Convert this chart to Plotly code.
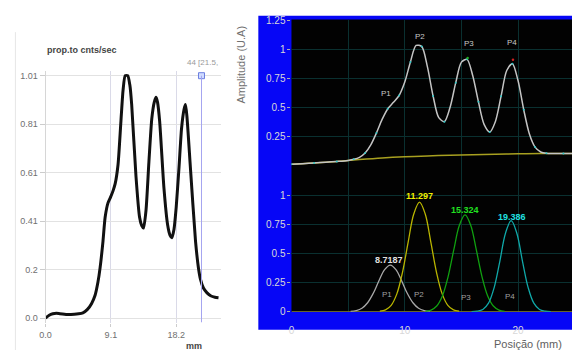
import plotly.graph_objects as go

# ---------------- data ----------------
# Left panel (profile, prop. to cnts/sec vs mm)
LEFT_X = [0.0, 0.5, 1.0, 1.5, 2.0, 3.0, 4.0, 4.6, 5.2, 5.8, 6.4, 6.9, 7.3, 7.6, 8.0, 8.3, 8.7,
          9.0, 9.4, 9.7, 10.1, 10.5, 10.8, 11.1, 11.45, 11.75, 12.0, 12.6, 13.1, 13.4, 13.65,
          14.0, 14.4, 14.8, 15.15, 15.4, 15.6, 15.9, 16.5, 17.0, 17.35, 17.6, 17.9, 18.2, 18.6,
          18.95, 19.3, 19.5, 19.7, 20.2, 20.9, 21.3, 21.6, 22.0, 22.5, 23.0, 23.6, 24.1]
LEFT_Y = [0.0, 0.012, 0.018, 0.02, 0.018, 0.015, 0.016, 0.018, 0.022, 0.035, 0.06, 0.095, 0.15,
          0.21, 0.32, 0.42, 0.48, 0.5, 0.53, 0.56, 0.64, 0.82, 0.95, 1.01, 1.01, 0.97, 0.89, 0.59,
          0.42, 0.385, 0.375, 0.45, 0.65, 0.83, 0.9, 0.92, 0.9, 0.82, 0.54, 0.39, 0.345, 0.335,
          0.37, 0.46, 0.63, 0.79, 0.87, 0.89, 0.84, 0.62, 0.32, 0.21, 0.16, 0.125, 0.105, 0.093,
          0.087, 0.085]
LEFT_XTICKS = [0.0, 9.1, 18.2]
LEFT_XTEXT = ["0.0", "9.1", "18.2"]
LEFT_YTICKS = [0.0, 0.202, 0.404, 0.606, 0.808, 1.01]
LEFT_YTEXT = ["0.0", "0.2", "0.41", "0.61", "0.81", "1.01"]
CURSOR_X = 21.73
CURSOR_LABEL = "44 [21.5,"

# Right panel, upper: measured profile and background
UP_X = [0, 1, 2, 3, 4, 5, 5.5, 6, 6.5, 7, 7.5, 8, 8.5, 9, 9.5, 10, 10.5, 11, 11.5, 12, 12.5, 13,
        13.5, 14, 14.5, 15, 15.5, 16, 16.5, 17, 17.5, 18, 18.5, 19, 19.5, 20, 20.5, 21, 21.5, 22,
        22.5, 23, 24, 24.8]
UP_Y = [0.014, 0.019, 0.025, 0.031, 0.038, 0.047, 0.056, 0.073, 0.110, 0.180, 0.282, 0.398, 0.490,
        0.545, 0.603, 0.718, 0.891, 1.032, 1.022, 0.848, 0.599, 0.413, 0.379, 0.502, 0.713, 0.889,
        0.913, 0.772, 0.550, 0.356, 0.290, 0.381, 0.597, 0.817, 0.876, 0.729, 0.481, 0.273, 0.161,
        0.119, 0.108, 0.106, 0.106, 0.107]
BASE_X = [0, 2, 4, 6, 8, 10, 12, 14, 16, 18, 20, 22, 24.8]
BASE_Y = [0.014, 0.025, 0.038, 0.054, 0.068, 0.078, 0.085, 0.091, 0.096, 0.1, 0.103, 0.105, 0.107]
PEAK_NAMES = ["P1", "P2", "P3", "P4"]
UP_LABEL_X = [8.38, 11.3, 15.66, 19.45]
UP_LABEL_Y = [0.62, 1.11, 1.045, 1.055]
TOP_DOT_X = [15.55, 19.55]
TOP_DOT_Y = [0.925, 0.91]

# Right panel, lower: fitted components
P1_X = [5.22, 5.72, 6.22, 6.72, 7.22, 7.72, 8.22, 8.72, 9.22, 9.72, 10.22, 10.72, 11.22, 11.72, 12.22]
P1_Y = [0.003, 0.010, 0.030, 0.077, 0.158, 0.265, 0.361, 0.40, 0.361, 0.265, 0.158, 0.077, 0.030, 0.010, 0.003]
P2_X = [7.8, 8.3, 8.8, 9.3, 9.8, 10.3, 10.8, 11.3, 11.8, 12.3, 12.8, 13.3, 13.8, 14.3, 14.8]
P2_Y = [0.004, 0.016, 0.055, 0.153, 0.338, 0.597, 0.839, 0.94, 0.839, 0.597, 0.338, 0.153, 0.055, 0.016, 0.004]
P3_X = [11.82, 12.32, 12.82, 13.32, 13.82, 14.32, 14.82, 15.32, 15.82, 16.32, 16.82, 17.32, 17.82, 18.32, 18.82]
P3_Y = [0.003, 0.014, 0.049, 0.135, 0.299, 0.527, 0.741, 0.83, 0.741, 0.527, 0.299, 0.135, 0.049, 0.014, 0.003]
P4_X = [15.89, 16.39, 16.89, 17.39, 17.89, 18.39, 18.89, 19.39, 19.89, 20.39, 20.89, 21.39, 21.89, 22.39, 22.89]
P4_Y = [0.001, 0.004, 0.019, 0.073, 0.207, 0.432, 0.673, 0.78, 0.673, 0.432, 0.207, 0.073, 0.019, 0.004, 0.001]
CENTER_LABELS = ["8.7187", "11.297", "15.324", "19.386"]
CENTER_LABEL_X = [8.6, 11.27, 15.34, 19.42]
CENTER_LABEL_Y = [0.444, 0.99, 0.87, 0.81]
LOW_LABEL_X = [8.4, 11.27, 15.37, 19.3]
LOW_LABEL_Y = [0.15, 0.15, 0.12, 0.13]
RIGHT_XTICKS = [0, 5, 10, 15, 20]
RIGHT_XTEXT = ["0", "", "10", "", "20"]
UP_YTICKS = [0.25, 0.5, 0.75, 1, 1.25]
UP_YTEXT = ["0.25", "0.5", "0.75", "1", "1.25"]
LOW_YTICKS = [0, 0.25, 0.5, 0.75, 1]
LOW_YTEXT = ["0", "0.25", "0.5", "0.75", "1"]

# ---------------- styling ----------------
W, H = 572, 356
FONT = "Liberation Sans, Arial, sans-serif"
COMP_COLORS = ["#a8a8a8", "#b8b400", "#10a010", "#10a8a8"]
LABEL_COLORS = ["#e0e0e0", "#f0f000", "#20e020", "#20e0e0"]
GRID_R = "#0a3030"
BLUE = "#0606f6"


def px(x):
    return x / W


def py(y):
    return 1 - y / H


fig = go.Figure()

# left panel curve
fig.add_trace(go.Scatter(x=LEFT_X, y=LEFT_Y, mode="lines", xaxis="x", yaxis="y",
                         line=dict(color="#111111", width=3, shape="spline", smoothing=0.6),
                         hoverinfo="skip"))
fig.add_trace(go.Scatter(x=[CURSOR_X], y=[LEFT_YTICKS[-1]], mode="markers", xaxis="x", yaxis="y",
                         marker=dict(symbol="square", size=6, color="#d0dcff",
                                     line=dict(color="#6c7fe0", width=1)),
                         hoverinfo="skip", cliponaxis=False))

# right upper
fig.add_trace(go.Scatter(x=BASE_X, y=BASE_Y, mode="lines", xaxis="x2", yaxis="y2",
                         line=dict(color="#a8a020", width=1.5, shape="spline"), hoverinfo="skip"))
fig.add_trace(go.Scatter(x=UP_X, y=UP_Y, mode="lines", xaxis="x2", yaxis="y2",
                         line=dict(color="#c4c4c4", width=1.5, shape="spline", smoothing=0.8),
                         hoverinfo="skip"))
fig.add_trace(go.Scatter(x=UP_X[::2], y=UP_Y[::2], mode="markers", xaxis="x2", yaxis="y2",
                         marker=dict(color="#30c8c8", size=2), hoverinfo="skip"))
fig.add_trace(go.Scatter(x=TOP_DOT_X, y=TOP_DOT_Y, mode="markers", xaxis="x2", yaxis="y2",
                         marker=dict(color=["#20b020", "#d02020"], size=2.5), hoverinfo="skip"))

# right lower
fig.add_trace(go.Scatter(x=[0, BASE_X[-1]], y=[0, 0], mode="lines", xaxis="x3", yaxis="y3",
                         line=dict(color="#8a8420", width=1.5), hoverinfo="skip"))
for xs, ys, c in zip([P1_X, P2_X, P3_X, P4_X], [P1_Y, P2_Y, P3_Y, P4_Y], COMP_COLORS):
    fig.add_trace(go.Scatter(x=xs, y=ys, mode="lines", xaxis="x3", yaxis="y3",
                             line=dict(color=c, width=1.3, shape="spline"), hoverinfo="skip"))

# ---------------- layout ----------------
tickfont_r = dict(family=FONT, size=10, color="#d8d8d8")
tickfont_l = dict(family=FONT, size=9, color="#707070")

x_r_dom = [px(288.5), 1.0]
x_r_rng = [0, (W - 288.5) / 11.45]

fig.update_layout(
    width=W, height=H, margin=dict(l=0, r=0, t=0, b=0),
    paper_bgcolor="white", plot_bgcolor="rgba(0,0,0,0)", showlegend=False,
    xaxis=dict(domain=[px(40), px(217)], range=[0, 24.41], anchor="y",
               tickvals=LEFT_XTICKS, ticktext=LEFT_XTEXT, showgrid=True, gridcolor="#dadae8",
               zeroline=False, showline=False, ticks="outside", ticklen=3, tickcolor="#cccccc",
               tickfont=tickfont_l),
    yaxis=dict(domain=[py(328), py(68)], range=[-0.02, 1.03], anchor="x",
               tickvals=LEFT_YTICKS, ticktext=LEFT_YTEXT, showgrid=True, gridcolor="#e2e2e2",
               zeroline=False, showline=True, linecolor="#d6d6d6", ticks="outside", ticklen=5,
               tickcolor="#cccccc", tickfont=tickfont_l),
    xaxis2=dict(domain=x_r_dom, range=x_r_rng, anchor="y2", tickvals=RIGHT_XTICKS,
                showticklabels=False, showgrid=True, gridcolor=GRID_R, zeroline=False,
                showline=False, ticks=""),
    yaxis2=dict(domain=[py(166), py(15.5)], range=[0, 1.25], anchor="x2",
                tickvals=UP_YTICKS, ticktext=UP_YTEXT, showgrid=True, gridcolor=GRID_R,
                zeroline=False, showline=False, ticks="outside", ticklen=3, tickcolor="#b0b0b0",
                tickfont=tickfont_r),
    xaxis3=dict(domain=x_r_dom, range=x_r_rng, anchor="y3", tickvals=RIGHT_XTICKS,
                ticktext=RIGHT_XTEXT, showgrid=True, gridcolor=GRID_R, zeroline=False,
                showline=False, ticks="outside", ticklen=9, tickcolor=BLUE, tickfont=tickfont_r),
    yaxis3=dict(domain=[py(316.5), py(166)], range=[0, 1.25], anchor="x3",
                tickvals=LOW_YTICKS, ticktext=LOW_YTEXT, showgrid=True, gridcolor=GRID_R,
                zeroline=False, showline=False, ticks="outside", ticklen=3, tickcolor="#b0b0b0",
                tickfont=tickfont_r),
)

shapes = [
    dict(type="rect", xref="paper", yref="paper", x0=px(255), x1=1.0, y0=py(335), y1=py(11),
         fillcolor=BLUE, line=dict(width=0), layer="below"),
    dict(type="rect", xref="paper", yref="paper", x0=px(288.5), x1=1.0, y0=py(316.5), y1=py(15),
         fillcolor="#020202", line=dict(width=0), layer="below"),
    dict(type="line", xref="paper", yref="paper", x0=px(9.5), x1=px(9.5), y0=0, y1=py(28),
         line=dict(color="#e6e6e6", width=1)),
    dict(type="line", xref="x", yref="y", x0=CURSOR_X, x1=CURSOR_X, y0=-0.018, y1=LEFT_YTICKS[-1],
         line=dict(color="#a4a4f0", width=1)),
]

ann = [
    dict(text="<b>prop.to cnts/sec</b>", x=px(39), y=py(46), xref="paper", yref="paper",
         xanchor="left", yanchor="middle", showarrow=False,
         font=dict(family=FONT, size=9, color="#444444")),
    dict(text="<b>mm</b>", x=px(190), y=py(352), xref="paper", yref="paper",
         xanchor="center", yanchor="middle", showarrow=False,
         font=dict(family=FONT, size=9, color="#444444")),
    dict(text=CURSOR_LABEL, x=px(216), y=py(59), xref="paper", yref="paper",
         xanchor="right", yanchor="middle", showarrow=False,
         font=dict(family=FONT, size=8, color="#9a9a9a")),
    dict(text="Amplitude (U.A)", x=px(238), y=py(62), xref="paper", yref="paper",
         xanchor="center", yanchor="middle", showarrow=False, textangle=-90,
         font=dict(family=FONT, size=11, color="#707070")),
    dict(text="Posição (mm)", x=px(491), y=py(350), xref="paper", yref="paper",
         xanchor="left", yanchor="middle", showarrow=False,
         font=dict(family=FONT, size=11, color="#606060")),
]
for name, xv, yv in zip(PEAK_NAMES, UP_LABEL_X, UP_LABEL_Y):
    ann.append(dict(text=name, x=xv, y=yv, xref="x2", yref="y2", showarrow=False,
                    font=dict(family=FONT, size=8, color="#c8c8c8")))
for txt, xv, yv, c in zip(CENTER_LABELS, CENTER_LABEL_X, CENTER_LABEL_Y, LABEL_COLORS):
    ann.append(dict(text="<b>" + txt + "</b>", x=xv, y=yv, xref="x3", yref="y3", showarrow=False,
                    font=dict(family=FONT, size=9, color=c)))
for name, xv, yv in zip(PEAK_NAMES, LOW_LABEL_X, LOW_LABEL_Y):
    ann.append(dict(text=name, x=xv, y=yv, xref="x3", yref="y3", showarrow=False,
                    font=dict(family=FONT, size=8, color="#a0a0a0")))

fig.update_layout(shapes=shapes, annotations=ann)
fig.write_html("out.html")
